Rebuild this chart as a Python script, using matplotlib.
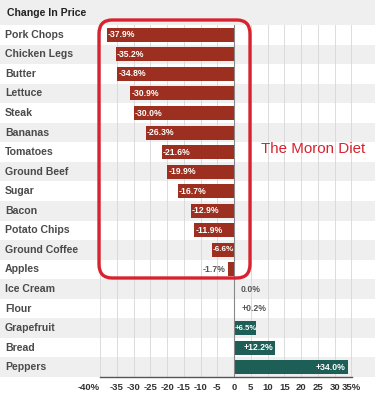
import matplotlib
matplotlib.use("Agg")
import matplotlib.pyplot as plt
from matplotlib.patches import FancyBboxPatch

plt.rcParams['font.family'] = ['Liberation Sans', 'DejaVu Sans']

foods = ['Pork Chops', 'Chicken Legs', 'Butter', 'Lettuce', 'Steak', 'Bananas',
         'Tomatoes', 'Ground Beef', 'Sugar', 'Bacon', 'Potato Chips', 'Ground Coffee',
         'Apples', 'Ice Cream', 'Flour', 'Grapefruit', 'Bread', 'Peppers']
change = [-37.9, -35.2, -34.8, -30.9, -30.0, -26.3, -21.6, -19.9, -16.7, -12.9,
          -11.9, -6.6, -1.7, 0.0, 0.2, 6.5, 12.2, 34.0]
xticks = [-40, -35, -30, -25, -20, -15, -10, -5, 0, 5, 10, 15, 20, 25, 30, 35]
xticklabels = ['-40%', '-35', '-30', '-25', '-20', '-15', '-10', '-5', '0', '5',
               '10', '15', '20', '25', '30', '35%']

red = '#9c2f1f'
green = '#1d5f56'
band = '#efefef'
textgrey = '#4a4a4a'

W, H = 375, 398
fig = plt.figure(figsize=(W / 100, H / 100), dpi=100)
fig.patch.set_facecolor('white')
ax = fig.add_axes([100 / W, (H - 377) / H, 252 / W, (377 - 25) / H])
ax.set_facecolor('none')

n = len(foods)
ax.set_ylim(n - 0.5, -0.5)
ax.set_xlim(-40, 35.2)

# row bands stretched over the whole width of the figure
x0 = -100 / 252
x1 = (W - 100) / 252
row_px = 352 / n
ax.axhspan(-0.5 - 25 / row_px, -0.5, xmin=x0, xmax=x1, color=band, lw=0,
           clip_on=False, zorder=0)
for i in range(n):
    if i % 2 == 1:
        ax.axhspan(i - 0.5, i + 0.5, xmin=x0, xmax=x1, color=band, lw=0,
                   clip_on=False, zorder=0)

for x in xticks:
    ax.axvline(x, color='#d6d6d6', lw=0.6, zorder=1)

colors = [red if v < 0 else green for v in change]
ax.barh(range(n), change, height=0.72, color=colors, zorder=2)
ax.axvline(0, color='#888888', lw=0.8, zorder=3)

px_per_unit = 252 / 75.2
renderer = fig.canvas.get_renderer()
for i, v in enumerate(change):
    lab = ('+' if v > 0 else '') + f'{v:.1f}%'
    if abs(v) > 5:
        if v < 0:
            t = ax.text(v + 0.3, i, lab, color='white', fontsize=6.2, fontweight='bold',
                        ha='left', va='center', zorder=4)
        else:
            t = ax.text(v - 0.6 if v > 10 else 0.3, i, lab, color='white', fontsize=6.2,
                        fontweight='bold', ha='right' if v > 10 else 'left',
                        va='center', zorder=4)
        # shrink the label a little if it does not fit inside its bar
        room = abs(v) * px_per_unit
        w = t.get_window_extent(renderer).width
        if w > room:
            t.set_fontsize(max(5.6, 6.2 * room / w))
    elif v < 0:
        ax.text(v - 0.8, i, lab, color='#555555', fontsize=6.2, fontweight='bold',
                ha='right', va='center', zorder=4)
    else:
        ax.text(v + 2.0, i, lab, color='#555555', fontsize=6.2, fontweight='bold',
                ha='left', va='center', zorder=4)

ax.set_yticks(range(n))
ax.set_yticklabels([])
for i, f in enumerate(foods):
    ax.text(5 / W, ax.transData.transform((0, i))[1] / H, f, transform=fig.transFigure,
            fontsize=7.6, fontweight='bold', color=textgrey, ha='left', va='center')
fig.text(7 / W, (H - 13) / H, 'Change In Price', fontsize=7.6, fontweight='bold',
         color='#222222', ha='left', va='center')

ax.set_xticks(xticks)
ax.set_xticklabels(xticklabels, fontsize=6.8, fontweight='bold', color='#333333')
ax.get_xticklabels()[0].set_ha('right')
ax.tick_params(axis='both', length=0, pad=4)
for s in ['top', 'right', 'left']:
    ax.spines[s].set_visible(False)
ax.spines['bottom'].set_color('#555555')
ax.spines['bottom'].set_linewidth(1.0)

# highlight box
box = FancyBboxPatch((99 / W, (H - 278) / H), 151 / W, 258 / H,
                     boxstyle='round,pad=0,rounding_size=0.035',
                     transform=fig.transFigure, facecolor='none',
                     edgecolor='#d8232f', lw=2.4, zorder=5)
fig.patches.append(box)
fig.text(261 / W, (H - 149) / H, 'The Moron Diet', color='#d8232f', fontsize=10.9,
         ha='left', va='center')

fig.savefig('out.png', dpi=100)
